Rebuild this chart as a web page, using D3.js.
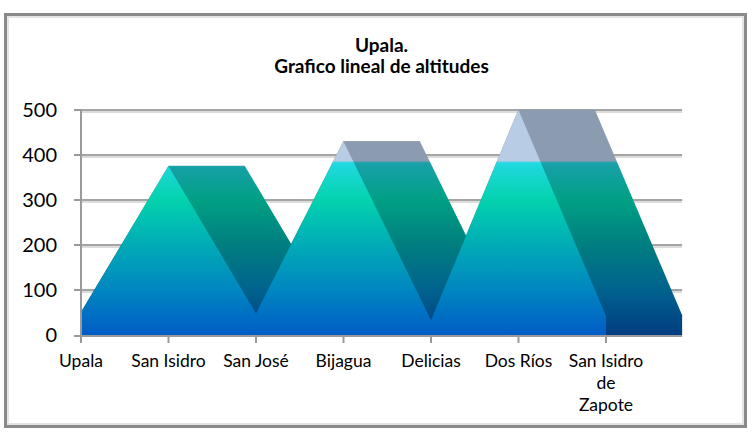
<!DOCTYPE html>
<html>
<head>
<meta charset="utf-8">
<script src="https://cdn.jsdelivr.net/npm/d3@7"></script>
<style>
  body { margin: 0; background: #fff; }
  svg { display: block; }
  text { font-family: Lato, "Open Sans", sans-serif; fill: #000; }
</style>
</head>
<body>
<svg id="chart" width="752" height="433"></svg>
<script>
// data
const categories = ["Upala", "San Isidro", "San José", "Bijagua", "Delicias", "Dos Ríos", "San Isidro de Zapote"];
const altitudes = [50, 375, 48, 430, 33, 500, 42];
const tickLabels = [["Upala"], ["San Isidro"], ["San José"], ["Bijagua"], ["Delicias"], ["Dos Ríos"], ["San Isidro", "de", "Zapote"]];
const yTicks = [0, 100, 200, 300, 400, 500];
const titleLines = ["Upala.", "Grafico lineal de altitudes"];

const data = categories.map((c, i) => ({ cat: c, v: altitudes[i] }));

const svg = d3.select("#chart");

// frame
svg.append("rect")
    .attr("x", 5.5).attr("y", 14.5)
    .attr("width", 740).attr("height", 412)
    .attr("fill", "#fff")
    .attr("stroke", "#8a8a8a")
    .attr("stroke-width", 3);
svg.append("rect")
    .attr("x", 8).attr("y", 17)
    .attr("width", 735).attr("height", 407)
    .attr("fill", "none")
    .attr("stroke", "#e4e4e4")
    .attr("stroke-width", 2);

// scales
const x = d3.scalePoint().domain(categories).range([81, 606]);
const depth = x.step() * 0.87;
const plotRight = x(categories[categories.length - 1]) + depth;
const y = d3.scaleLinear().domain([0, 500]).range([335, 110]);

// gradients (same vertical ramp for every face, darker for the sides)
const defs = svg.append("defs");
function ramp(id, stops) {
    const g = defs.append("linearGradient")
        .attr("id", id)
        .attr("gradientUnits", "userSpaceOnUse")
        .attr("x1", 0).attr("x2", 0)
        .attr("y1", y(0)).attr("y2", y(500));
    stops.forEach(s => g.append("stop").attr("offset", s[0]).attr("stop-color", s[1]));
}
ramp("frontFill", [
    [0, "#005cc6"], [0.2, "#0086c0"], [0.4, "#00abb6"], [0.6, "#03d2ae"],
    [0.74, "#1cd8d8"], [0.765, "#22d9e3"], [0.775, "#b8cce5"], [1, "#b8cce5"]
]);
ramp("sideFill", [
    [0, "#003c80"], [0.2, "#00628e"], [0.4, "#007e80"], [0.6, "#00a084"],
    [0.74, "#15a0a4"], [0.765, "#19a2aa"], [0.775, "#8c9cb0"], [1, "#8c9cb0"]
]);

// gridlines
const grid = svg.append("g");
yTicks.filter(t => t > 0).forEach(t => {
    grid.append("line")
        .attr("x1", 81).attr("x2", plotRight)
        .attr("y1", y(t) + 2).attr("y2", y(t) + 2)
        .attr("stroke", "#dcdcdc").attr("stroke-width", 2);
    grid.append("line")
        .attr("x1", 81).attr("x2", plotRight)
        .attr("y1", y(t)).attr("y2", y(t))
        .attr("stroke", "#a4a4a4").attr("stroke-width", 2);
});

// 3d area: back face + swept sides, then the front face
const area = d3.area()
    .x(d => x(d.cat))
    .y0(y(0))
    .y1(d => y(d.v));

const chart = svg.append("g");
chart.append("path")
    .attr("transform", `translate(${depth},0)`)
    .attr("d", area(data))
    .attr("fill", "url(#sideFill)");

const sides = d3.pairs(data).map(([a, b]) => [
    [x(a.cat), y(a.v)], [x(b.cat), y(b.v)],
    [x(b.cat) + depth, y(b.v)], [x(a.cat) + depth, y(a.v)]
]);
chart.selectAll(".side")
    .data(sides)
    .enter().append("path")
    .attr("class", "side")
    .attr("d", d => "M" + d.join("L") + "Z")
    .attr("fill", "url(#sideFill)")
    .attr("stroke", "url(#sideFill)")
    .attr("stroke-width", 0.5);

chart.append("path")
    .attr("d", area(data))
    .attr("fill", "url(#frontFill)");

// axes
const axisColor = "#9a9a9a";
svg.append("line")
    .attr("x1", 81).attr("x2", 81)
    .attr("y1", y(500)).attr("y2", y(0) + 1)
    .attr("stroke", axisColor).attr("stroke-width", 2);
svg.append("line")
    .attr("x1", 74).attr("x2", plotRight)
    .attr("y1", y(0) + 1).attr("y2", y(0) + 1)
    .attr("stroke", axisColor).attr("stroke-width", 2);

yTicks.forEach(t => {
    svg.append("line")
        .attr("x1", 74).attr("x2", 81)
        .attr("y1", t === 0 ? y(t) + 1 : y(t)).attr("y2", t === 0 ? y(t) + 1 : y(t))
        .attr("stroke", axisColor).attr("stroke-width", 2);
    svg.append("text")
        .attr("x", 57)
        .attr("y", y(t))
        .attr("dy", "0.36em")
        .attr("text-anchor", "end")
        .style("font-size", "20px")
        .text(t);
});

categories.forEach((c, i) => {
    svg.append("line")
        .attr("x1", x(c)).attr("x2", x(c))
        .attr("y1", y(0)).attr("y2", y(0) + 8)
        .attr("stroke", axisColor).attr("stroke-width", 2);
    const t = svg.append("text")
        .attr("text-anchor", "middle")
        .style("font-size", "17.5px");
    tickLabels[i].forEach((line, k) => {
        t.append("tspan")
            .attr("x", x(c))
            .attr("y", 367 + k * 22)
            .text(line);
    });
});

// title
titleLines.forEach((line, k) => {
    svg.append("text")
        .attr("x", (81 + plotRight) / 2)
        .attr("y", 52 + k * 21)
        .attr("text-anchor", "middle")
        .style("font-size", "19px")
        .style("font-weight", "bold")
        .text(line);
});
</script>
</body>
</html>
